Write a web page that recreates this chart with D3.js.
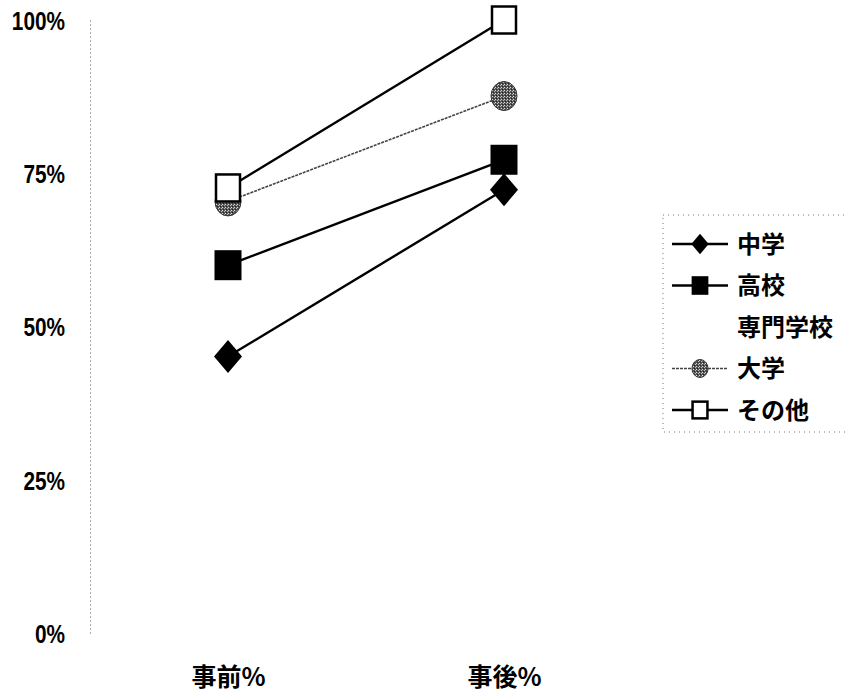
<!DOCTYPE html>
<html><head><meta charset="utf-8">
<script src="https://cdn.jsdelivr.net/npm/d3@7"></script>
<style>
html,body{margin:0;padding:0;background:#fff;}
svg{display:block;}
</style></head>
<body>
<svg id="c" width="848" height="696"></svg>
<script>
const categories = ["事前%", "事後%"];
const seriesNames = ["中学", "高校", "専門学校", "大学", "その他"];
const chugaku = [45.1, 72.3];
const koko = [60.0, 77.2];
const senmon = [null, null];
const daigaku = [70.4, 87.6];
const sonota = [72.6, 100];
const yTicks = [0, 25, 50, 75, 100];
const yTickLabels = ["0%", "25%", "50%", "75%", "100%"];

const seriesValues = [chugaku, koko, senmon, daigaku, sonota];
const markerTypes = ["diamond", "square", "none", "circle", "open"];

const svg = d3.select("#c");
const numFont = "'Liberation Sans','Arial',sans-serif";
const cjkFont = "'Noto Sans CJK JP','Noto Sans',sans-serif";

const defs = svg.append("defs");
const pat = defs.append("pattern").attr("id","dither").attr("width",3).attr("height",3).attr("patternUnits","userSpaceOnUse");
pat.append("rect").attr("width",3).attr("height",3).attr("fill","#555");
pat.append("rect").attr("x",0).attr("y",0).attr("width",1).attr("height",1).attr("fill","#ddd");
pat.append("rect").attr("x",2).attr("y",1).attr("width",1).attr("height",1).attr("fill","#bbb");
pat.append("rect").attr("x",1).attr("y",2).attr("width",1).attr("height",1).attr("fill","#222");

const y = d3.scaleLinear().domain([0, 100]).range([633, 20]);
const x = d3.scalePoint().domain(categories).range([228, 504]);

// y axis
const sx = 0.8;
const yAxis = svg.append("g").attr("transform","translate(90,0)")
  .call(d3.axisLeft(y).tickValues(yTicks).tickFormat((d,i)=>yTickLabels[i]).tickSize(0).tickPadding(25));
yAxis.select(".domain").attr("stroke","#555").attr("stroke-width",1).attr("stroke-dasharray","1,3");
yAxis.selectAll("text").attr("font-family", numFont).attr("font-size", 26).attr("font-weight","bold").attr("fill","#000")
  .attr("dy","0.36em").attr("x", -25/sx).attr("transform", `scale(${sx},1)`);

// x axis labels
const xAxis = svg.append("g").attr("transform","translate(0,633)")
  .call(d3.axisBottom(x).tickSize(0).tickPadding(0));
xAxis.select(".domain").remove();
xAxis.selectAll("text").attr("font-family", cjkFont).attr("font-size", 25).attr("font-weight","bold").attr("fill","#000").attr("y", 44).attr("dy","0.35em");

// legend border (dotted)
svg.append("rect").attr("x",663).attr("y",215).attr("width",200).attr("height",217)
  .attr("fill","none").attr("stroke","#777").attr("stroke-width",1).attr("stroke-dasharray","1,4");

function drawMarker(g, type, cx, cy, s) {
  if (type === "diamond") {
    const rx = 14*s, ry = 16.5*s;
    g.append("path").attr("d", `M${cx},${cy-ry}L${cx+rx},${cy}L${cx},${cy+ry}L${cx-rx},${cy}Z`).attr("fill","#000");
  } else if (type === "square") {
    g.append("rect").attr("x",cx-13.5*s).attr("y",cy-15*s).attr("width",27*s).attr("height",30*s).attr("fill","#000");
  } else if (type === "circle") {
    g.append("ellipse").attr("cx",cx).attr("cy",cy).attr("rx",13*s).attr("ry",14.5*s).attr("fill","url(#dither)").attr("stroke","#333").attr("stroke-width",1);
  } else if (type === "open") {
    g.append("rect").attr("x",cx-12*s).attr("y",cy-13.5*s).attr("width",24*s).attr("height",27*s).attr("fill","#fff").attr("stroke","#000").attr("stroke-width",2.5);
  }
}

seriesValues.forEach((vals, si) => {
  const g = svg.append("g");
  const t = markerTypes[si];
  if (t === "none") return;
  g.append("path").datum(vals).attr("d", d3.line().defined(v=>v!=null).x((v,i)=>x(categories[i])).y(v=>y(v)))
    .attr("fill","none")
    .attr("stroke", t === "circle" ? "#444" : "#000")
    .attr("stroke-width", t === "circle" ? 1.6 : 2.4)
    .attr("stroke-dasharray", t === "circle" ? "3,1" : null);
  vals.forEach((v,i) => { if (v != null) drawMarker(g, t, x(categories[i]), y(v), 1); });
});

// legend
const legY0 = 244, legStep = 41.5;
seriesNames.forEach((name, si) => {
  const cy = legY0 + si*legStep;
  const g = svg.append("g");
  const t = markerTypes[si];
  if (t !== "none") {
    g.append("line").attr("x1",672).attr("x2",728).attr("y1",cy).attr("y2",cy)
      .attr("stroke", t === "circle" ? "#444" : "#000").attr("stroke-width", t === "circle" ? 1.6 : 2.4)
      .attr("stroke-dasharray", t === "circle" ? "3,1" : null);
    drawMarker(g, t, 700, cy, 0.62);
  }
  g.append("text").attr("x",737).attr("y",cy).attr("dy","0.36em")
    .attr("font-family", cjkFont).attr("font-size", 24).attr("font-weight","bold").attr("fill","#000").text(name);
});
</script>
</body></html>
